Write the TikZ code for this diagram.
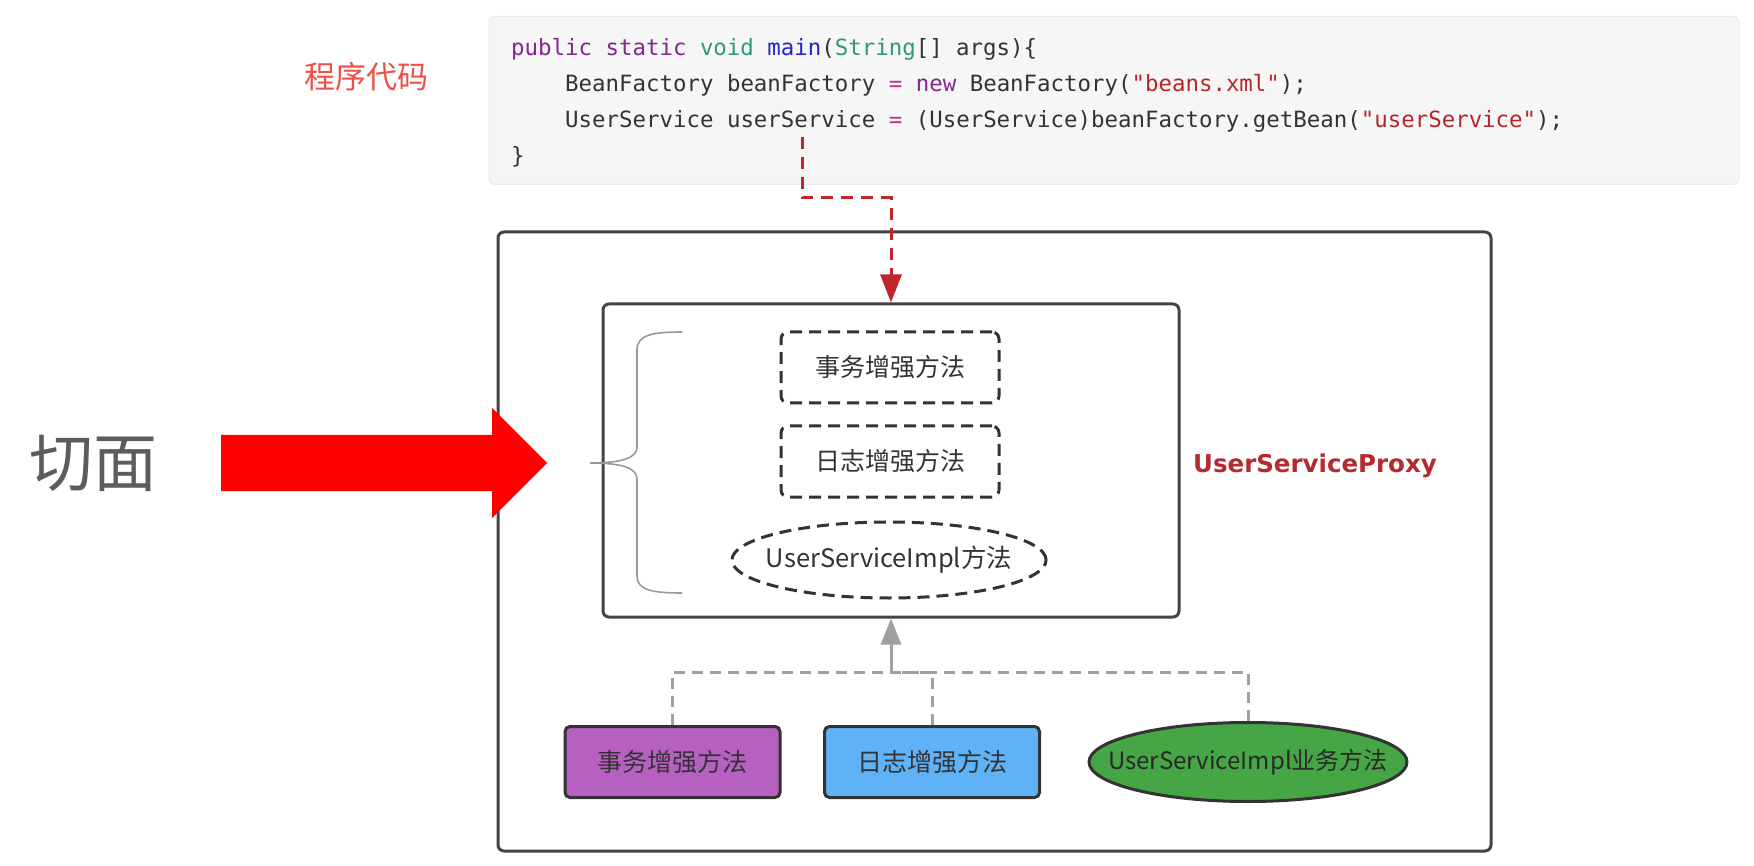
\documentclass[tikz,border=0pt]{standalone}
\usepackage{fontspec}
\usetikzlibrary{arrows.meta,shapes.geometric}
\newfontfamily\cjk{Noto Sans CJK SC}
\newfontfamily\codefont{DejaVu Sans Mono}
\newfontfamily\proxyfont{DejaVu Sans}

\definecolor{codebg}{HTML}{F6F6F6}
\definecolor{codeframe}{HTML}{ECECEC}
\definecolor{codetext}{HTML}{333333}
\definecolor{kwpurple}{HTML}{85268F}
\definecolor{kwgreen}{HTML}{2E9A6A}
\definecolor{kwblue}{HTML}{2424CC}
\definecolor{strred}{HTML}{B5262B}
\definecolor{opmag}{HTML}{C0308A}
\definecolor{labelred}{HTML}{EC5048}
\definecolor{linkred}{HTML}{C0272D}
\definecolor{proxyred}{HTML}{B52A30}
\definecolor{frame}{HTML}{444444}
\definecolor{linkgray}{HTML}{A0A0A0}
\definecolor{bracegray}{HTML}{999999}
\definecolor{txfill}{HTML}{B660C2}
\definecolor{logfill}{HTML}{5EB2F5}
\definecolor{implfill}{HTML}{46A545}
\definecolor{textgray}{HTML}{333333}

\tikzset{
  codeline/.style={anchor=base west, inner sep=0pt, font=\codefont\fontsize{22.4}{26}\selectfont, text=codetext},
  container/.style={draw=frame, line width=3pt, rounded corners=6pt},
  dashbox/.style={draw=textgray, line width=3pt, dash pattern=on 12pt off 7pt, rounded corners=7pt,
    minimum width=218pt, minimum height=71pt, inner sep=0pt, text=textgray, font=\cjk\fontsize{25}{30}\selectfont},
  dashoval/.style={draw=textgray, ellipse, line width=3pt, dash pattern=on 12pt off 7pt,
    minimum width=312pt, minimum height=76pt, inner xsep=-12pt, inner ysep=0pt, text=textgray,
    font=\cjk\fontsize{25.5}{30}\selectfont},
  methodbox/.style={draw=textgray, line width=3pt, rounded corners=5pt, minimum width=215pt,
    minimum height=71pt, inner sep=0pt, text=textgray, font=\cjk\fontsize{25}{30}\selectfont},
  methodoval/.style={draw=textgray, ellipse, line width=3pt, minimum width=318pt, minimum height=79pt,
    inner xsep=-30pt, inner ysep=0pt, text=textgray!80!black, font=\cjk\fontsize{24}{30}\selectfont},
  redlink/.style={draw=linkred, line width=3pt, dash pattern=on 12pt off 8pt,
    -{Triangle[length=28pt,width=21pt,fill=linkred]}},
  graylink/.style={draw=linkgray, line width=3pt, dash pattern=on 11pt off 7pt},
  grayarrow/.style={draw=linkgray, line width=3pt, -{Triangle[length=26pt,width=20pt,fill=linkgray]}}
}

\begin{document}
\begin{tikzpicture}[x=1pt, y=-1pt]
\useasboundingbox (0,0) rectangle (1754,866);

% source code panel
\node[fill=codebg, draw=codeframe, line width=1pt, rounded corners=6pt, inner sep=0pt,
      minimum width=1250pt, minimum height=168pt] (code) at (1114,100.5) {};
\node[codeline] (l1) at (511,56) {\textcolor{kwpurple}{public static} \textcolor{kwgreen}{void} \textcolor{kwblue}{main}(\textcolor{kwgreen}{String}[] args)\{};
\node[codeline] (l2) at (565,92) {BeanFactory beanFactory \textcolor{opmag}{=} \textcolor{kwpurple}{new} BeanFactory(\textcolor{strred}{"beans.xml"});};
\node[codeline] (l3) at (565,128) {UserService userService \textcolor{opmag}{=} (UserService)beanFactory.getBean(\textcolor{strred}{"userService"});};
\node[codeline] (l4) at (511,164) {\}};
\node[font=\cjk\fontsize{31}{34}\selectfont, text=labelred] (codelabel) at (366,77) {程序代码};

% proxy container
\node[container, minimum width=993pt, minimum height=619pt, inner sep=0pt] (outer) at (994.5,541.5) {};
\node[container, minimum width=576pt, minimum height=313pt, inner sep=0pt] (proxy) at (891,460.5) {};
\node[font=\proxyfont\bfseries\fontsize{24.5}{28}\selectfont, text=proxyred] (proxylabel) at (1315,466) {UserServiceProxy};

% woven methods inside the proxy
\node[dashbox] (tx) at (890,367.5) {事务增强方法};
\node[dashbox] (log) at (890,461.5) {日志增强方法};
\node[dashoval] (impl) at (889,560) {UserServiceImpl方法};

% brace grouping the woven methods
\draw[bracegray, line width=1.6pt]
  (682,332) .. controls (652,332) and (637,335) .. (637,350) -- (637,447)
  .. controls (637,458) and (622,463) .. (590,463)
  .. controls (622,463) and (637,468) .. (637,479) -- (637,576)
  .. controls (637,590) and (652,593) .. (682,593);

% aspect arrow and label
\fill[red] (221,435) -- (492,435) -- (492,408) -- (547,463) -- (492,518) -- (492,491) -- (221,491) -- cycle;
\node[font=\cjk\fontsize{64}{70}\selectfont, text=black!64] (aspect) at (93,463) {切面};

% ingredient beans
\node[methodbox, fill=txfill] (txsrc) at (672.5,762) {事务增强方法};
\node[methodbox, fill=logfill] (logsrc) at (932,762) {日志增强方法};
\node[methodoval, fill=implfill] (implsrc) at (1248,762) {UserServiceImpl业务方法};

% connectors
\coordinate (src) at (802,137);
\coordinate (bend) at (802,198);
\draw[redlink] (src) -- (bend) -| (proxy.north);

\coordinate (hub) at (891,672);
\draw[graylink] (txsrc.north) |- (hub);
\draw[graylink] (logsrc.north) |- (hub);
\draw[graylink] (implsrc.north) |- (hub);
\draw[grayarrow] (hub) -- (proxy.south);
\end{tikzpicture}
\end{document}
